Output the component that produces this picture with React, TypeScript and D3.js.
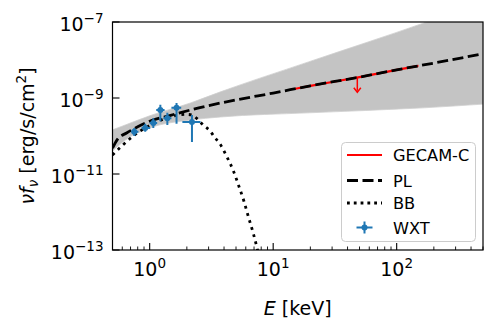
import React from 'react';
import * as d3 from 'd3';

// model curves (E in keV, nuFnu in erg/s/cm^2)
const plE = [0.5, 0.55, 0.65, 0.8, 1, 1.5, 2.5, 5, 10, 20, 50, 100, 200, 500];
const plF = [4.8e-11, 8.3e-11, 1.2e-10, 1.74e-10, 2.45e-10, 3.55e-10, 5.5e-10, 8.9e-10, 1.35e-9, 2.09e-9, 3.55e-9, 5.5e-9, 8.3e-9, 1.45e-8];

const bandE = [0.5, 0.635, 1, 2.14, 3.74, 19.3, 164, 500];
const bandHi = [1.45e-10, 1.95e-10, 3.4e-10, 7.4e-10, 1.45e-9, 8.9e-9, 9.3e-8, 3.4e-7];
const bandLo = [4.0e-11, 7.8e-11, 1.62e-10, 2.63e-10, 3.16e-10, 4.07e-10, 5.5e-10, 6.9e-10];

const bbE = [0.5, 0.6, 0.75, 1, 1.3, 1.7, 2.0, 2.21, 2.45, 2.71, 3.07, 3.37, 3.67, 4.24, 4.79, 5.31, 5.79, 6.32, 6.9, 7.42, 8.0];
const bbF = [3.16e-11, 5.6e-11, 1.05e-10, 1.9e-10, 2.8e-10, 3.55e-10, 3.7e-10, 3.55e-10, 2.75e-10, 1.95e-10, 1.38e-10, 9.1e-11, 6.5e-11, 2.75e-11, 1.15e-11, 4.5e-12, 1.95e-12, 7.2e-13, 2.75e-13, 1.1e-13, 4e-14];

// GECAM-C band and upper limit
const gecamRange = [15, 150];
const gecamUlE = 48;
const gecamUlF = 3.4e-9;

// WXT points
const wxtE = [0.75, 0.92, 1.07, 1.22, 1.39, 1.65, 2.2];
const wxtElo = [0.71, 0.86, 1.0, 1.13, 1.29, 1.5, 1.84];
const wxtEhi = [0.81, 1.01, 1.15, 1.32, 1.5, 1.8, 2.58];
const wxtF = [1.29e-10, 1.62e-10, 2.19e-10, 4.8e-10, 2.95e-10, 5.5e-10, 2.34e-10];
const wxtFlo = [1.0e-10, 1.29e-10, 1.62e-10, 2.45e-10, 1.95e-10, 2.09e-10, 6.9e-11];
const wxtFhi = [1.62e-10, 2.09e-10, 2.95e-10, 6.6e-10, 4.07e-10, 7.4e-10, 3.55e-10];

const xMajor = [1, 10, 100];
const xMajorExp = ['0', '1', '2'];
const yMajor = [1e-13, 1e-11, 1e-9, 1e-7];
const yMajorExp = ['\u221213', '\u221211', '\u22129', '\u22127'];

const W = 498, H = 323;
const L = 112.5, R = 483, T = 22, B = 250;
const font = 'DejaVu Sans';
const blue = '#1f77b4';
const fs = 19, sfs = 13.5;

export default function App() {
  const x = d3.scaleLog().domain([0.5, 500]).range([L, R]);
  const y = d3.scaleLog().domain([1e-13, 1e-7]).range([B, T]);

  const line = d3.line<[number, number]>().x(d => x(d[0])).y(d => y(d[1])).curve(d3.curveMonotoneX);
  const area = d3.area<number>()
    .x((_, i) => x(bandE[i]))
    .y0((_, i) => y(bandLo[i]))
    .y1((_, i) => y(bandHi[i]))
    .curve(d3.curveMonotoneX);

  const plPath = line(plE.map((e, i) => [e, plF[i]]))!;
  const bbPath = line(bbE.map((e, i) => [e, bbF[i]]))!;

  const minor: number[] = [];
  [0.1, 1, 10, 100].forEach(d => {
    for (let k = 2; k <= 9; k++) {
      const v = d * k;
      if (v >= 0.5 && v <= 500) minor.push(v);
    }
  });

  const ulX = x(gecamUlE), ulY = y(gecamUlF);

  const lx0 = 347, lx1 = 382, ltx = 393;
  const ly = [155, 180.5, 203, 227.5];

  return (
    <svg width={W} height={H} style={{ position: 'absolute', left: 0, top: 0 }} fontFamily={font}>
      <defs>
        <clipPath id="plot"><rect x={L} y={T} width={R - L} height={B - T} /></clipPath>
        <clipPath id="gecam"><rect x={x(gecamRange[0])} y={T} width={x(gecamRange[1]) - x(gecamRange[0])} height={B - T} /></clipPath>
      </defs>
      <rect width={W} height={H} fill="white" />
      <g clipPath="url(#plot)">
        <path d={area(bandE)!} fill="#c4c4c4" stroke="#cfcfcf" strokeWidth={0.8} />
        <g clipPath="url(#gecam)">
          <path d={plPath} fill="none" stroke="red" strokeWidth={2.2} />
        </g>
        <path d={plPath} fill="none" stroke="black" strokeWidth={2.8} strokeDasharray="11,4.5" />
        <path d={bbPath} fill="none" stroke="black" strokeWidth={2.8} strokeDasharray="2.8,4.6" />
        {/* GECAM-C upper limit */}
        <line x1={ulX} x2={ulX} y1={ulY} y2={ulY + 13} stroke="red" strokeWidth={1.5} />
        <path d={`M${ulX - 3.5},${ulY + 10} L${ulX},${ulY + 14.5} L${ulX + 3.5},${ulY + 10}`} fill="none" stroke="red" strokeWidth={1.5} />
        {/* WXT */}
        {wxtE.map((e, i) => (
          <g key={i}>
            <line x1={x(wxtElo[i])} x2={x(wxtEhi[i])} y1={y(wxtF[i])} y2={y(wxtF[i])} stroke={blue} strokeWidth={2} />
            <line x1={x(e)} x2={x(e)} y1={y(wxtFlo[i])} y2={y(wxtFhi[i])} stroke={blue} strokeWidth={2} />
            <circle cx={x(e)} cy={y(wxtF[i])} r={3} fill={blue} />
          </g>
        ))}
      </g>

      {/* axes frame */}
      <rect x={L} y={T} width={R - L} height={B - T} fill="none" stroke="black" strokeWidth={1.2} />

      {xMajor.map((v, i) => (
        <g key={'xm' + i}>
          <line x1={x(v)} x2={x(v)} y1={B} y2={B - 7} stroke="black" strokeWidth={1.1} />
          <text x={x(v)} y={276} fontSize={fs} textAnchor="middle">
            10<tspan fontSize={sfs} dy={-8}>{xMajorExp[i]}</tspan>
          </text>
        </g>
      ))}
      {minor.map((v, i) => (
        <line key={'xn' + i} x1={x(v)} x2={x(v)} y1={B} y2={B - 3.5} stroke="black" strokeWidth={0.9} />
      ))}
      {yMajor.map((v, i) => (
        <g key={'ym' + i}>
          <line x1={L} x2={L + 7} y1={y(v)} y2={y(v)} stroke="black" strokeWidth={1.1} />
          <text x={103.5} y={y(v) + 8.5} fontSize={fs} textAnchor="end">
            10<tspan fontSize={sfs} dy={-8}>{yMajorExp[i]}</tspan>
          </text>
        </g>
      ))}

      <text x={(L + R) / 2} y={315} fontSize={fs} textAnchor="middle">
        <tspan fontStyle="italic">E</tspan> [keV]
      </text>
      <text transform={`translate(34,${(T + B) / 2}) rotate(-90)`} fontSize={fs} textAnchor="middle">
        <tspan fontStyle="italic">νf</tspan><tspan fontStyle="italic" fontSize={sfs} dy={3.5}>ν</tspan>
        <tspan dy={-3.5}> [erg/s/cm</tspan><tspan fontSize={sfs} dy={-8}>2</tspan><tspan dy={8}>]</tspan>
      </text>

      {/* legend */}
      <rect x={341.5} y={142.5} width={134} height={99} rx={4} fill="white" fillOpacity={0.8} stroke="#cccccc" strokeWidth={1} />
      <line x1={lx0} x2={lx1} y1={ly[0]} y2={ly[0]} stroke="red" strokeWidth={2} />
      <line x1={lx0} x2={lx1} y1={ly[1]} y2={ly[1]} stroke="black" strokeWidth={2.8} strokeDasharray="11,4.5" />
      <line x1={lx0} x2={lx1} y1={ly[2]} y2={ly[2]} stroke="black" strokeWidth={2.8} strokeDasharray="2.8,4" />
      <line x1={(lx0 + lx1) / 2 - 8} x2={(lx0 + lx1) / 2 + 8} y1={ly[3]} y2={ly[3]} stroke={blue} strokeWidth={2} />
      <line x1={(lx0 + lx1) / 2} x2={(lx0 + lx1) / 2} y1={ly[3] - 6} y2={ly[3] + 6} stroke={blue} strokeWidth={2} />
      <circle cx={(lx0 + lx1) / 2} cy={ly[3]} r={3} fill={blue} />
      {['GECAM-C', 'PL', 'BB', 'WXT'].map((t, i) => (
        <text key={t} x={ltx} y={ly[i] + 6} fontSize={16.2}>{t}</text>
      ))}
    </svg>
  );
}
